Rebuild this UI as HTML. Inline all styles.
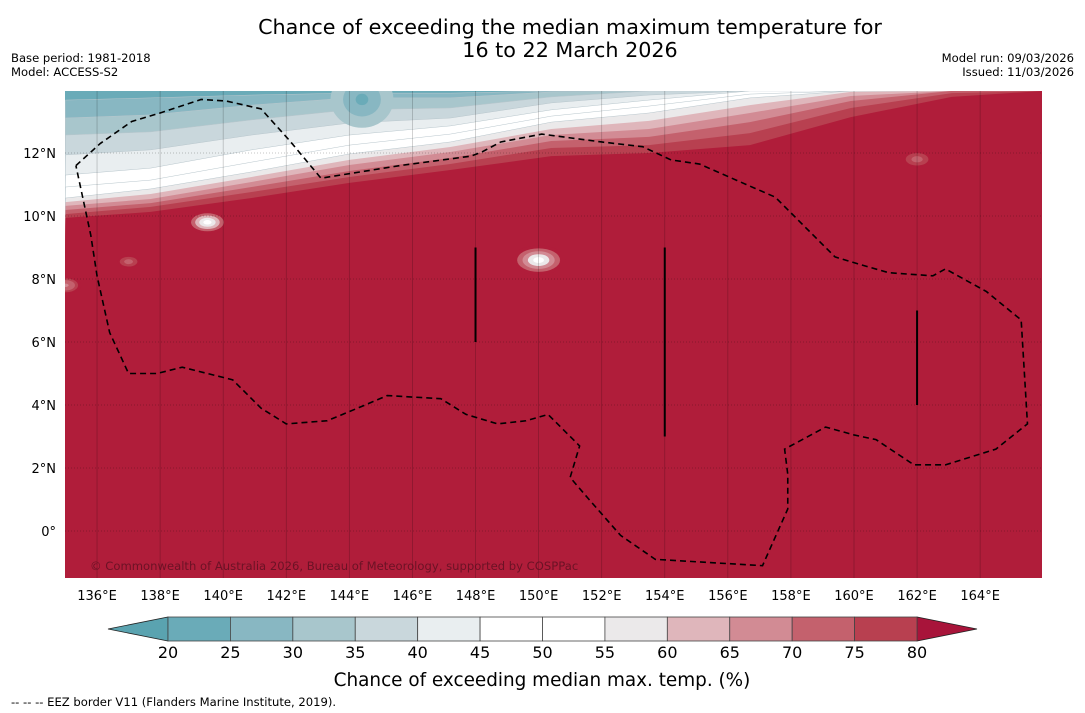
<!DOCTYPE html>
<html><head><meta charset="utf-8">
<style>
html,body{margin:0;padding:0;background:#fff;}
body{width:1085px;height:713px;overflow:hidden;font-family:"DejaVu Sans","Liberation Sans",sans-serif;}
svg{display:block}
</style></head>
<body>
<svg id="chart" width="1085" height="713" viewBox="0 0 1085 713" xmlns="http://www.w3.org/2000/svg" font-family="DejaVu Sans, Liberation Sans, sans-serif">
<text x="570" y="34" font-size="20.7" text-anchor="middle">Chance of exceeding the median maximum temperature for</text>
<text x="570" y="57" font-size="20.7" text-anchor="middle">16 to 22 March 2026</text>
<text x="11" y="62" font-size="11.6">Base period: 1981-2018</text>
<text x="11" y="76" font-size="11.6">Model: ACCESS-S2</text>
<text x="1074" y="62" font-size="11.6" text-anchor="end">Model run: 09/03/2026</text>
<text x="1074" y="76" font-size="11.6" text-anchor="end">Issued: 11/03/2026</text>
<defs><clipPath id="mapclip"><rect x="65" y="91" width="977" height="487"/></clipPath></defs>
<g id="map" clip-path="url(#mapclip)"></g>
<g id="axes"></g>
<g id="cbar"></g>
<text x="542" y="686" font-size="18.4" text-anchor="middle">Chance of exceeding median max. temp. (%)</text>
<text x="11" y="706" font-size="11.6">--  --  -- EEZ border V11 (Flanders Marine Institute, 2019).</text>
</svg>
<script>
// data
const levels = [20,25,30,35,40,45,50,55,60,65,70,75,80];
const bandColors = ["#5aa3b0","#6aabb8","#88b7c2","#a8c6cc","#c9d7dc","#e9eef0","#ffffff","#ffffff","#ebe9ea","#dfb6bb","#d28b94","#c4616d","#b84050","#b01d3a"];
const sampleLons = [135,137.7,140.9,144,147.2,150.4,153.5,156.7,159.9,163.1,166];
// contour boundary latitudes for levels 25..80 at sampleLons
const contourLats = {
 25:[13.68,13.75,13.84,13.90,13.90,13.97,13.97,13.97,13.97,13.97,13.97],
 30:[13.11,13.21,13.52,13.75,13.75,13.94,13.97,13.97,13.97,13.97,13.97],
 35:[12.57,12.67,13.05,13.37,13.43,13.78,13.97,13.97,13.97,13.97,13.97],
 40:[11.94,12.10,12.57,12.95,13.11,13.59,13.84,13.97,13.97,13.97,13.97],
 45:[11.30,11.52,12.10,12.57,12.86,13.37,13.68,13.97,13.97,13.97,13.97],
 50:[10.92,11.14,11.71,12.25,12.60,13.17,13.49,13.87,13.97,13.97,13.97],
 55:[10.57,10.86,11.40,11.97,12.35,12.98,13.27,13.75,13.97,13.97,13.97],
 60:[10.44,10.70,11.24,11.78,12.19,12.76,13.02,13.52,13.94,13.97,13.97],
 65:[10.32,10.54,11.08,11.62,12.03,12.57,12.76,13.27,13.81,13.97,13.97],
 70:[10.19,10.41,10.92,11.43,11.84,12.38,12.51,12.98,13.65,13.97,13.97],
 75:[10.06,10.29,10.76,11.24,11.65,12.16,12.25,12.63,13.43,13.90,13.97],
 80:[9.94,10.13,10.57,11.05,11.46,11.90,12.00,12.25,13.14,13.78,13.97]
};
const lonTicks = [136,138,140,142,144,146,148,150,152,154,156,158,160,162,164];
const latTicks = [0,2,4,6,8,10,12];
const blobs = [ // lon, lat, value, radius(deg)
 [139.5,9.8,47,0.65],[150.0,8.6,50,0.85],[137.0,8.55,72,0.35],[162.0,11.8,70,0.45],[135.0,7.8,68,0.5],[144.4,13.7,22,1.0]
];
const eezLonLat = [[135.33,11.6],[136.1,12.3],[137.1,13.0],[138.0,13.27],[139.3,13.7],[140.1,13.65],[141.2,13.4],[142.1,12.4],[143.1,11.2],[145.6,11.6],[147.85,11.9],[148.2,12.03],[148.8,12.35],[150.1,12.6],[152.0,12.35],[153.3,12.2],[154.2,11.78],[155.1,11.65],[156.4,11.08],[157.5,10.6],[158.3,9.8],[159.4,8.7],[160.4,8.4],[161.1,8.2],[162.5,8.1],[162.9,8.32],[164.2,7.6],[165.3,6.7],[165.5,3.4],[164.5,2.6],[162.9,2.1],[161.9,2.1],[160.7,2.9],[160.0,3.05],[159.1,3.3],[157.8,2.6],[157.9,1.8],[157.9,0.7],[157.1,-1.1],[153.7,-0.9],[152.6,-0.14],[151.6,1.0],[151.0,1.7],[151.3,2.7],[150.7,3.3],[150.3,3.7],[149.6,3.5],[148.7,3.4],[147.7,3.7],[146.9,4.2],[145.2,4.3],[144.5,4.0],[143.3,3.5],[142.0,3.4],[141.2,3.9],[140.3,4.8],[138.7,5.2],[137.9,5.0],[137.0,5.0],[136.4,6.3],[136.0,8.1],[135.8,9.4],[135.33,11.6]];
const lonLines = [[148,6,9],[154,3,9],[162,4,7]];

const NS="http://www.w3.org/2000/svg";
const X = lon => 65.5 + (lon-135)*31.54;
const Y = lat => 531 - lat*31.5;
function mk(tag, attrs, parent){const e=document.createElementNS(NS,tag);for(const k in attrs)e.setAttribute(k,attrs[k]);parent.appendChild(e);return e;}
const map=document.getElementById('map');
const axes=document.getElementById('axes');
const cbar=document.getElementById('cbar');
function colorFor(v){let i=0;while(i<levels.length&&v>=levels[i])i++;return bandColors[i];}

let r=mk('rect',{x:65,y:91,width:977,height:487,fill:bandColors[1]},map);


levels.slice(1).forEach((lv,k)=>{
  const lats=contourLats[lv];
  let d='M'+X(sampleLons[0])+','+Y(lats[0]);
  for(let i=1;i<lats.length;i++){
    d+=' L'+X(sampleLons[i])+','+Y(lats[i]);
  }
  d+=' L1050,590 L60,590 Z';
  const p=mk('path',{d:d,fill:bandColors[k+2],stroke:lv<=55?'#b8c6cc':'none','stroke-width':0.5},map);
  
  
});
blobs.forEach((b,bi)=>{
  const [lon,lat,v,rad]=b;
  const steps=5;
  for(let s=0;s<steps;s++){
    const f=1-s/steps;
    const val= v<50 && lat>13 ? 34-(34-v)*(s/(steps-1)) : 80-(80-v)*(s/(steps-1));
    const e=mk('ellipse',{cx:X(lon),cy:Y(lat),rx:rad*31.54*f,ry:rad*31.5*f*(lat>13?0.9:0.55),fill:colorFor(val)},map);
    
    
  }
});
lonTicks.forEach(l=>{
  const g=mk('line',{x1:X(l),x2:X(l),y1:91,y2:578,stroke:'#000','stroke-opacity':0.22,'stroke-width':0.8},map);
  
  
  const t=mk('text',{x:X(l),y:600,'font-size':13,'text-anchor':'middle'},axes);
  t.textContent=l+'°E';
  
  
});
latTicks.forEach(l=>{
  const g=mk('line',{x1:65,x2:1042,y1:Y(l),y2:Y(l),stroke:'#000','stroke-opacity':0.3,'stroke-width':0.8,'stroke-dasharray':'1,2'},map);
  
  
  const t=mk('text',{x:56,y:Y(l)+5,'font-size':13,'text-anchor':'end'},axes);
  t.textContent=l===0?'0°':l+'°N';
  
  
});
const eez=mk('polyline',{points:eezLonLat.map(p=>X(p[0])+','+Y(p[1])).join(' '),fill:'none',stroke:'#000','stroke-width':1.6,'stroke-dasharray':'6,4'},map);


lonLines.forEach(s=>{
  const l=mk('line',{x1:X(s[0]),x2:X(s[0]),y1:Y(s[2]),y2:Y(s[1]),stroke:'#000','stroke-width':2},map);
  
  
});
const cr=mk('text',{x:90,y:570,'font-size':11.6,fill:'#5a1020','fill-opacity':0.8},map);
cr.textContent='© Commonwealth of Australia 2026, Bureau of Meteorology, supported by COSPPac';



const cx0=168,cx1=917,cy0=617,cy1=641;
const CX=v=>cx0+(v-20)*(cx1-cx0)/60;
const lt=mk('polygon',{points:`108,629 ${cx0},${cy0} ${cx0},${cy1}`,fill:bandColors[0],stroke:'#222','stroke-width':0.8},cbar);


const rt=mk('polygon',{points:`977,629 ${cx1},${cy0} ${cx1},${cy1}`,fill:'#a8143a',stroke:'#222','stroke-width':0.8},cbar);


for(let i=0;i<levels.length-1;i++){
  const b=mk('rect',{x:CX(levels[i]),y:cy0,width:CX(levels[i+1])-CX(levels[i]),height:cy1-cy0,fill:bandColors[i+1],stroke:'#444','stroke-width':0.8},cbar);
  
  
}
levels.forEach(v=>{
  const t=mk('text',{x:CX(v),y:658,'font-size':16,'text-anchor':'middle'},cbar);
  t.textContent=v;
  
  
});
</script>
</body></html>
